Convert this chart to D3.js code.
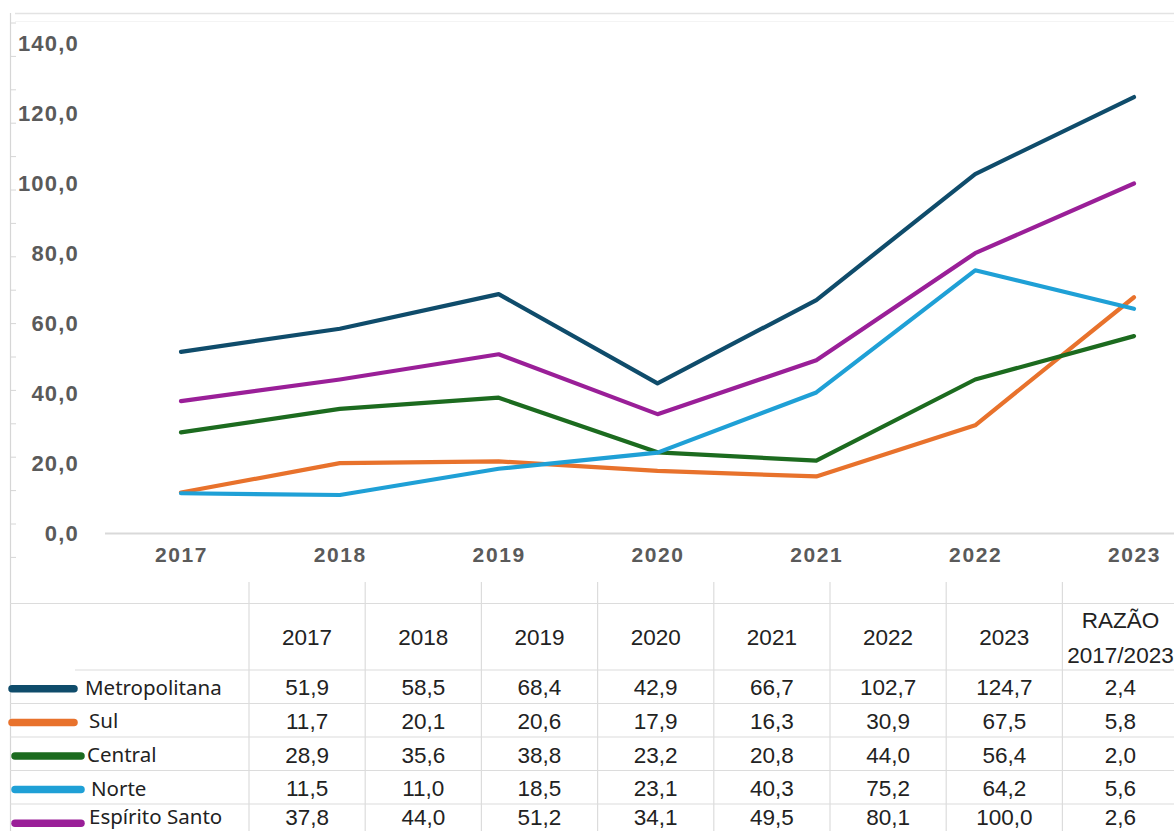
<!DOCTYPE html>
<html>
<head>
<meta charset="utf-8">
<script src="https://cdn.jsdelivr.net/npm/d3@7"></script>
<style>
html,body{margin:0;padding:0;background:#fff;overflow:hidden;}
svg{display:block;}
</style>
</head>
<body>
<svg id="c" width="1174" height="831"></svg>
<script>
// ---- data ----
const years = ["2017","2018","2019","2020","2021","2022","2023"];
const regions = ["Metropolitana","Sul","Central","Norte","Espírito Santo"];
const metropolitana = [51.9,58.5,68.4,42.9,66.7,102.7,124.7];
const sul = [11.7,20.1,20.6,17.9,16.3,30.9,67.5];
const central = [28.9,35.6,38.8,23.2,20.8,44.0,56.4];
const norte = [11.5,11.0,18.5,23.1,40.3,75.2,64.2];
const espiritoSanto = [37.8,44.0,51.2,34.1,49.5,80.1,100.0];
const razao = [2.4,5.8,2.0,5.6,2.6];
const yTicks = [0,20,40,60,80,100,120,140];
const ratioHeader = ["RAZÃO","2017/2023"];

// ---- styles ----
const colors = ["#0f4c6b","#e8722c","#1c6b1f","#1fa0d6","#9a1f98"];
const seriesValues = [metropolitana, sul, central, norte, espiritoSanto];

const svg = d3.select("#c");
const fmt = v => d3.format(".1f")(v).replace(".", ",");

// frame artifacts (spreadsheet)
svg.append("line").attr("x1",15).attr("x2",1174).attr("y1",13.5).attr("y2",13.5)
  .attr("stroke","#e3e3e3").attr("stroke-width",1.5);
svg.append("line").attr("x1",15).attr("x2",1174).attr("y1",21.5).attr("y2",21.5)
  .attr("stroke","#f4f4f4").attr("stroke-width",1);
svg.append("line").attr("x1",10.5).attr("x2",10.5).attr("y1",13).attr("y2",831)
  .attr("stroke","#d6d6d6").attr("stroke-width",1.2);
for (let yy = 23; yy < 580; yy += 33.4) {
  svg.append("line").attr("x1",10).attr("x2",16).attr("y1",yy).attr("y2",yy)
    .attr("stroke","#d6d6d6").attr("stroke-width",1);
}

// ---- scales ----
const x = d3.scalePoint().domain(years).range([181,1134]);
const y = d3.scaleLinear().domain([0,140]).range([533.5,43.5]);

// y axis labels
const yAxis = d3.axisLeft(y).tickValues(yTicks).tickSize(0).tickFormat(fmt);
const gy = svg.append("g").attr("transform","translate(82,0)").call(yAxis);
gy.select(".domain").remove();
gy.selectAll("text").attr("font-family","Liberation Sans, Arial, sans-serif")
  .attr("font-weight","bold").attr("font-size",22).attr("fill","#5a5a5a")
  .attr("letter-spacing","1.2px").attr("dx",0);

// x axis
const xAxis = d3.axisBottom(x).tickSize(0).tickPadding(14);
const gx = svg.append("g").attr("transform",`translate(0,${y(0)})`).call(xAxis);
gx.select(".domain").remove();
svg.append("line").attr("x1",105).attr("x2",1174).attr("y1",y(0)).attr("y2",y(0))
  .attr("stroke","#d9d9d9").attr("stroke-width",2);
gx.selectAll("text").attr("font-family","Liberation Sans, Arial, sans-serif")
  .attr("font-weight","bold").attr("font-size",21).attr("fill","#5a5a5a")
  .attr("letter-spacing","1.6px");

// lines
const line = d3.line().x((d,i)=>x(years[i])).y(d=>y(d));
seriesValues.forEach((vals,k)=>{
  svg.append("path").datum(vals).attr("d",line).attr("fill","none")
    .attr("stroke",colors[k]).attr("stroke-width",4.2).attr("stroke-linejoin","round")
    .attr("stroke-linecap","round");
});

// ---- table ----
const colEdges = d3.range(9).map(i => 249 + i*116.2);
const colX = d3.scaleBand().domain(years.concat(["r"])).range([249, 249+8*116.2]);
const rowEdges = [670,703.5,737,770.5,804,838];
const rowY = d3.scaleBand().domain(regions).range([670,838]);
const grid = "#dcdcdc";
svg.append("line").attr("x1",10).attr("x2",1174).attr("y1",603.5).attr("y2",603.5)
  .attr("stroke",grid).attr("stroke-width",1.2);
rowEdges.forEach((yy,i)=>{
  svg.append("line").attr("x1", i===0?75:10).attr("x2",1174).attr("y1",yy).attr("y2",yy)
    .attr("stroke",grid).attr("stroke-width",1.2);
});
colEdges.forEach(xx=>{
  svg.append("line").attr("x1",xx).attr("x2",xx).attr("y1",582).attr("y2",831)
    .attr("stroke",grid).attr("stroke-width",1.2);
});

const tf = "Liberation Sans, Arial, sans-serif";
const fs = 22.5;
// header
years.forEach(yr=>{
  svg.append("text").attr("x",colX(yr)+colX.bandwidth()/2).attr("y",644.5)
    .attr("text-anchor","middle").attr("font-family",tf).attr("font-size",fs)
    .attr("fill","#222").text(yr);
});
ratioHeader.forEach((t,i)=>{
  svg.append("text").attr("x",colX("r")+colX.bandwidth()/2).attr("y",628+i*35)
    .attr("text-anchor","middle").attr("font-family",tf).attr("font-size",fs)
    .attr("fill","#222").text(t);
});

// rows
regions.forEach((r,k)=>{
  const cy = rowY(r)+rowY.bandwidth()/2;
  const by = Math.min(cy+8.5, 824.5);
  seriesValues[k].forEach((v,i)=>{
    svg.append("text").attr("x",colX(years[i])+colX.bandwidth()/2).attr("y",by)
      .attr("text-anchor","middle").attr("font-family",tf).attr("font-size",fs)
      .attr("fill","#222").text(fmt(v));
  });
  svg.append("text").attr("x",colX("r")+colX.bandwidth()/2).attr("y",by)
    .attr("text-anchor","middle").attr("font-family",tf).attr("font-size",fs)
    .attr("fill","#222").text(fmt(razao[k]));
  // legend swatch
  const sx1 = k<2 ? 12 : 15, sx2 = k<2 ? 74 : 81;
  svg.append("line").attr("x1",sx1).attr("x2",sx2).attr("y1",cy+2).attr("y2",cy+2)
    .attr("stroke",colors[k]).attr("stroke-width",7.5).attr("stroke-linecap","round");
  const lx = [85,89,87,91,89][k];
  svg.append("text").attr("x",lx).attr("y",Math.min(by-0.5, 823.5)).attr("font-family","Noto Sans, sans-serif")
    .attr("font-size",20.5).attr("fill","#222").text(r);
});
</script>
</body>
</html>
